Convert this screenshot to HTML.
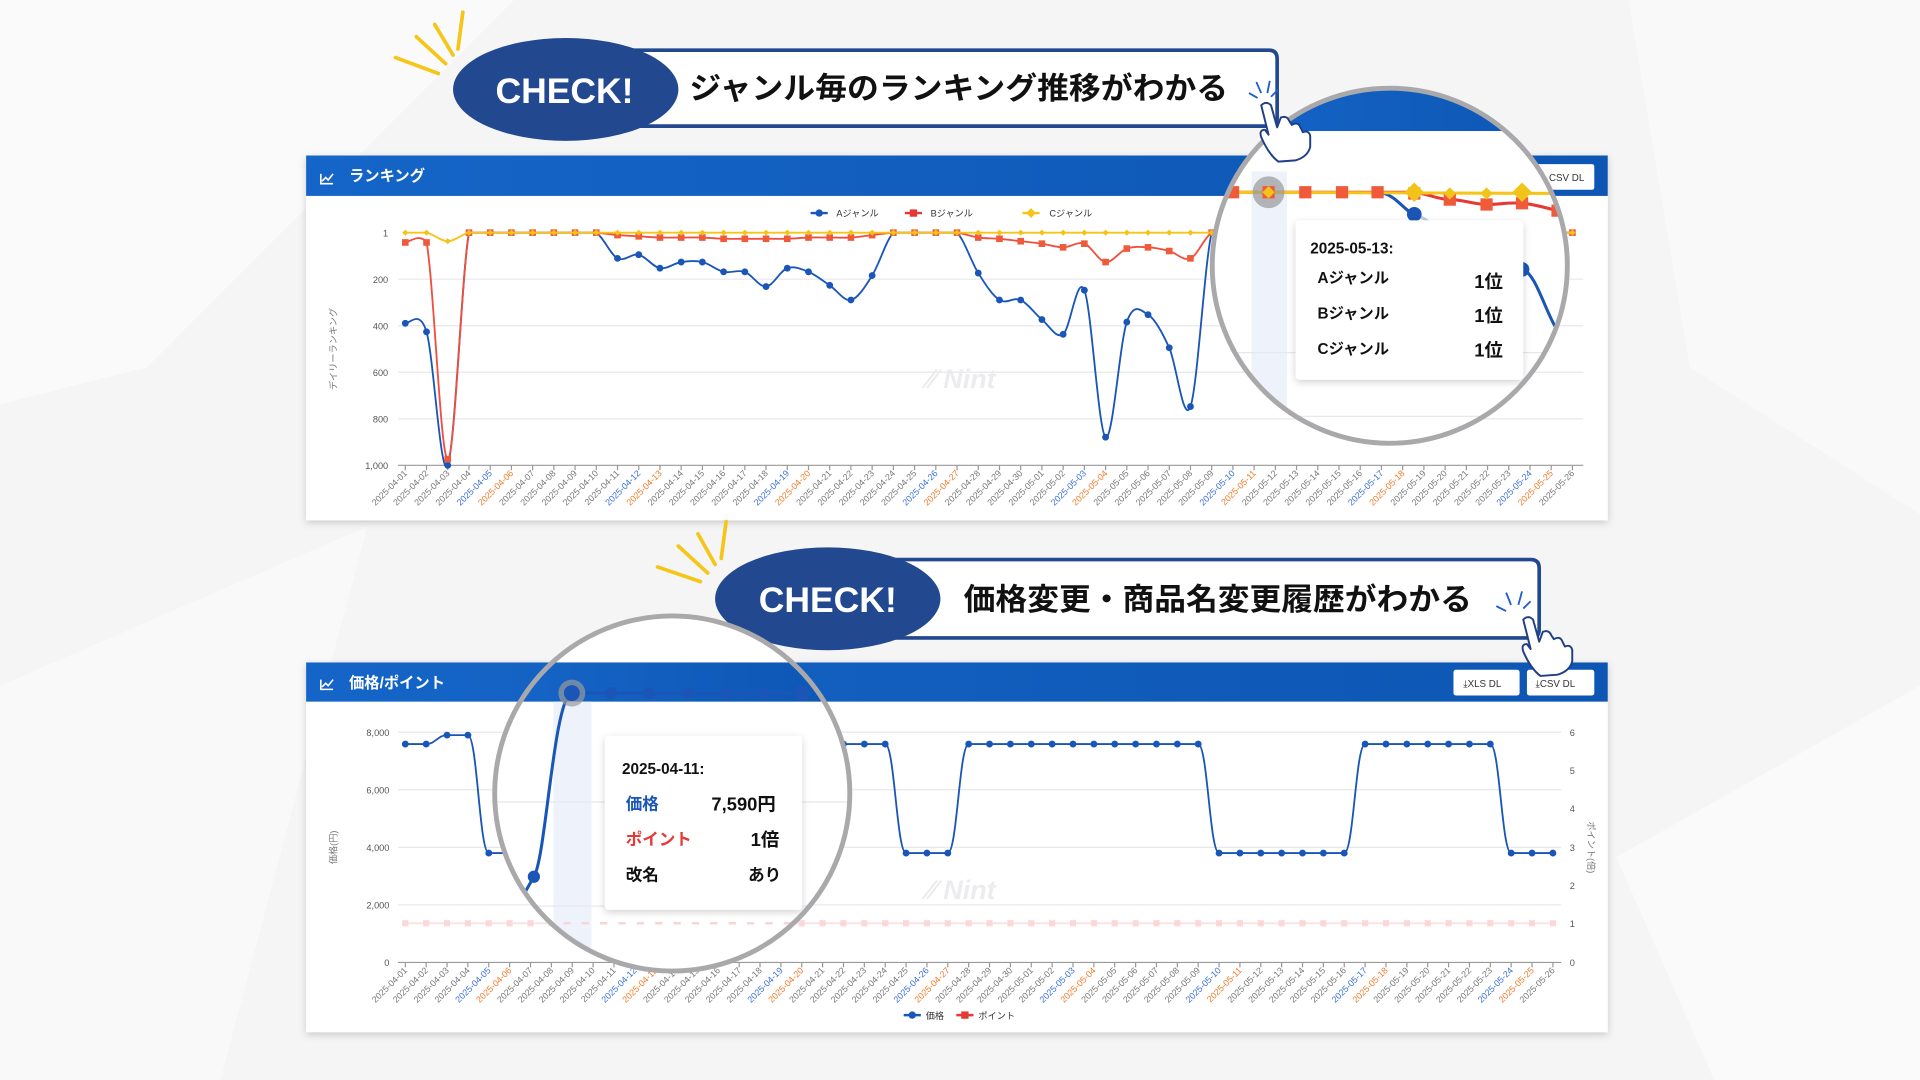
<!DOCTYPE html>
<html><head><meta charset="utf-8">
<style>
html,body{margin:0;padding:0;background:#f5f5f6;overflow:hidden}
svg{display:block;font-family:"Liberation Sans","Noto Sans CJK JP",sans-serif}
.dt{font-size:7.3px;fill:#777}
.dt.b{fill:#3a6fd6}.dt.o{fill:#f07a2a}
.ax{font-size:7.5px;fill:#555}
</style></head><body>
<svg id="s" xmlns="http://www.w3.org/2000/svg" width="1920" height="1080" viewBox="0 0 1568 882">
<defs>
<linearGradient id="hg" x1="0" x2="1" y1="0" y2="0"><stop offset="0" stop-color="#1565c8"/><stop offset="1" stop-color="#0d56b3"/></linearGradient>
<clipPath id="c1"><circle cx="1135" cy="217" r="145"/></clipPath>
<clipPath id="c2"><circle cx="549" cy="648" r="145"/></clipPath>
<filter id="sh" x="-10%" y="-10%" width="120%" height="130%"><feDropShadow dx="0" dy="2" stdDeviation="3" flood-color="#000" flood-opacity="0.18"/></filter>
</defs>
<rect width="1568" height="882" fill="#f5f5f6"/>
<polygon points="0,0 420,0 120,300 0,330" fill="#fafafa"/>
<polygon points="0,560 300,430 180,882 0,882" fill="#f9f9fa"/>
<polygon points="1330,0 1568,0 1568,420 1380,300" fill="#f9f9fa"/>
<polygon points="1320,700 1568,560 1568,882 1400,882" fill="#fafafa"/>

<!-- banner 1 -->
<g>
<g stroke="#f5c518" stroke-width="3" stroke-linecap="round"><line x1="323" y1="47" x2="358" y2="60"/><line x1="340" y1="30" x2="364" y2="52"/><line x1="355" y1="20" x2="370" y2="45"/><line x1="378" y1="10" x2="374" y2="40"/></g>
<path d="M500,41 H1036 Q1043,41 1043,48 V96 Q1043,103 1036,103 H500 Z" fill="#fff" stroke="#22488f" stroke-width="3"/>
<ellipse cx="462" cy="73" rx="92" ry="42" fill="#22488f"/>
<text x="461" y="84" text-anchor="middle" font-size="29" font-weight="bold" fill="#fff">CHECK!</text>
<text x="563" y="81" font-size="25" font-weight="bold" fill="#111" textLength="440" lengthAdjust="spacingAndGlyphs">ジャンル毎のランキング推移がわかる</text>
</g>

<!-- panel 1 -->
<g filter="url(#sh)"><rect x="250" y="127" width="1063" height="298" fill="#fff"/></g>
<rect x="250" y="127" width="1063" height="33" fill="url(#hg)"/>
<path d="M262,142 v8 h10 M263,148 l3,-3 2,2 4,-5" stroke="#fff" stroke-width="1.3" fill="none"/>
<text x="285" y="148" font-size="12.5" font-weight="bold" fill="#fff">ランキング</text>
<rect x="1253" y="134" width="49" height="21" rx="2" fill="#fff"/>
<text x="1265" y="148" font-size="8" fill="#333">CSV DL</text>
<g font-size="7.5" fill="#333">
<line x1="662" y1="174" x2="676" y2="174" stroke="#1a56b8" stroke-width="2"/><circle cx="669" cy="174" r="3" fill="#1a56b8"/><text x="683" y="177">Aジャンル</text>
<line x1="739" y1="174" x2="753" y2="174" stroke="#e53935" stroke-width="2"/><rect x="743" y="171" width="6" height="6" fill="#e53935"/><text x="760" y="177">Bジャンル</text>
<line x1="835" y1="174" x2="849" y2="174" stroke="#f5c518" stroke-width="2"/><path d="M842,170 l4,4 -4,4 -4,-4z" fill="#f5c518"/><text x="857" y="177">Cジャンル</text>
</g>
<g stroke="#e8e8ec" stroke-width="1"><line x1="325" y1="228" x2="1293" y2="228"/><line x1="325" y1="266" x2="1293" y2="266"/><line x1="325" y1="304" x2="1293" y2="304"/><line x1="325" y1="342" x2="1293" y2="342"/></g>
<line x1="325" y1="380" x2="1293" y2="380" stroke="#999"/>
<g class="ax" text-anchor="end"><text x="317" y="193">1</text><text x="317" y="231">200</text><text x="317" y="269">400</text><text x="317" y="307">600</text><text x="317" y="345">800</text><text x="317" y="383">1,000</text></g>
<text transform="translate(275,285) rotate(-90)" text-anchor="middle" font-size="7.5" fill="#777">デイリーランキング</text>
<text x="785" y="317" text-anchor="middle" font-size="22" font-weight="bold" fill="#ececef" font-style="italic">⁄⁄ Nint</text>
<g id="g1"></g>
<g id="d1"><text class="dt">2025-04-01</text><text class="dt">2025-04-02</text><text class="dt">2025-04-03</text><text class="dt">2025-04-04</text><text class="dt b">2025-04-05</text><text class="dt o">2025-04-06</text><text class="dt">2025-04-07</text><text class="dt">2025-04-08</text><text class="dt">2025-04-09</text><text class="dt">2025-04-10</text><text class="dt">2025-04-11</text><text class="dt b">2025-04-12</text><text class="dt o">2025-04-13</text><text class="dt">2025-04-14</text><text class="dt">2025-04-15</text><text class="dt">2025-04-16</text><text class="dt">2025-04-17</text><text class="dt">2025-04-18</text><text class="dt b">2025-04-19</text><text class="dt o">2025-04-20</text><text class="dt">2025-04-21</text><text class="dt">2025-04-22</text><text class="dt">2025-04-23</text><text class="dt">2025-04-24</text><text class="dt">2025-04-25</text><text class="dt b">2025-04-26</text><text class="dt o">2025-04-27</text><text class="dt">2025-04-28</text><text class="dt">2025-04-29</text><text class="dt">2025-04-30</text><text class="dt">2025-05-01</text><text class="dt">2025-05-02</text><text class="dt b">2025-05-03</text><text class="dt o">2025-05-04</text><text class="dt">2025-05-05</text><text class="dt">2025-05-06</text><text class="dt">2025-05-07</text><text class="dt">2025-05-08</text><text class="dt">2025-05-09</text><text class="dt b">2025-05-10</text><text class="dt o">2025-05-11</text><text class="dt">2025-05-12</text><text class="dt">2025-05-13</text><text class="dt">2025-05-14</text><text class="dt">2025-05-15</text><text class="dt">2025-05-16</text><text class="dt b">2025-05-17</text><text class="dt o">2025-05-18</text><text class="dt">2025-05-19</text><text class="dt">2025-05-20</text><text class="dt">2025-05-21</text><text class="dt">2025-05-22</text><text class="dt">2025-05-23</text><text class="dt b">2025-05-24</text><text class="dt o">2025-05-25</text><text class="dt">2025-05-26</text></g>

<!-- magnifier 1 -->
<g clip-path="url(#c1)">
<rect x="985" y="70" width="300" height="300" fill="#fff"/>
<rect x="985" y="70" width="300" height="37" fill="url(#hg)"/>
<rect x="1022" y="140" width="29" height="230" fill="#eef2fa"/>
<g stroke="#e8e8ec"><line x1="985" y1="288" x2="1290" y2="288"/><line x1="985" y1="340" x2="1290" y2="340"/></g>
<path d="M1125,157 C1140,158 1146,172 1155,175" stroke="#1a56b8" stroke-width="2.5" fill="none"/>
<path d="M1155,175 C1170,180 1176,190 1184,202 C1196,222 1202,252 1214,247 C1226,243 1232,220 1243,220" stroke="#b9cbe9" stroke-width="2.5" fill="none"/>
<path d="M1243,220 C1254,222 1262,255 1272,270" stroke="#1a56b8" stroke-width="2.5" fill="none"/>
<circle cx="1155" cy="175" r="6" fill="#1a56b8"/><circle cx="1184" cy="202" r="5" fill="#b9cbe9"/><circle cx="1214" cy="247" r="5" fill="#b9cbe9"/><circle cx="1243" cy="220" r="6" fill="#1a56b8"/>
<path d="M985,157 H1155 C1165,158 1175,163 1184,163 C1195,163 1204,167 1214,167 C1225,167 1232,165 1243,166 C1255,167 1262,170 1285,175" stroke="#e53935" stroke-width="2.5" fill="none"/>
<line x1="985" y1="157" x2="1290" y2="158" stroke="#f5c518" stroke-width="2.5"/>
<circle cx="1036" cy="157" r="13" fill="#999" opacity="0.7"/>
<g fill="#ef5b3a"><rect x="1002" y="152" width="10" height="10"/><rect x="1031" y="152" width="10" height="10"/><rect x="1061" y="152" width="10" height="10"/><rect x="1091" y="152" width="10" height="10"/><rect x="1120" y="152" width="10" height="10"/><rect x="1150" y="153" width="10" height="10"/><rect x="1179" y="158" width="10" height="10"/><rect x="1209" y="162" width="10" height="10"/><rect x="1238" y="161" width="10" height="10"/><rect x="1267" y="167" width="10" height="10"/></g>
<g fill="#f2c318"><path d="M1036,152 l5,5 -5,5 -5,-5z"/><path d="M1155,149 l8,8 -8,8 -8,-8z"/><path d="M1184,153 l5,5 -5,5 -5,-5z"/><path d="M1214,153 l5,5 -5,5 -5,-5z"/><path d="M1243,149 l8,8 -8,8 -8,-8z"/></g>
<g filter="url(#sh)"><rect x="1058" y="180" width="186" height="130" rx="3" fill="#fff"/></g>
<text x="1070" y="207" font-size="12.5" font-weight="bold" fill="#111">2025-05-13:</text>
<g font-size="12.5" font-weight="bold" fill="#111"><text x="1076" y="231">Aジャンル</text><text x="1076" y="260">Bジャンル</text><text x="1076" y="289">Cジャンル</text>
<text x="1204" y="235" font-size="15">1位</text><text x="1204" y="263" font-size="15">1位</text><text x="1204" y="291" font-size="15">1位</text></g>
</g>
<circle cx="1135" cy="217" r="145" fill="none" stroke="#a9a9ab" stroke-width="4"/>
<!-- hand 1 -->
<g stroke="#1f3f86" stroke-width="1.6" fill="#fff" stroke-linejoin="round">
<path d="M1030,86 Q1034,82 1038,86 L1043,104 L1046,96 Q1051,94 1053,99 L1055,102 Q1060,99 1062,104 L1064,108 Q1069,106 1070,111 L1070,120 Q1068,128 1058,131 L1044,132 Q1036,126 1030,112 Q1028,106 1033,106 L1036,110 Z"/>
</g>
<g stroke="#1f5fc8" stroke-width="1.5"><line x1="1020" y1="76" x2="1027" y2="80"/><line x1="1026" y1="67" x2="1030" y2="76"/><line x1="1037" y1="66" x2="1035" y2="76"/><line x1="1044" y1="73" x2="1038" y2="79"/></g>

<!-- banner 2 -->
<g>
<g stroke="#f5c518" stroke-width="3" stroke-linecap="round"><line x1="537" y1="463" x2="572" y2="475"/><line x1="554" y1="446" x2="578" y2="468"/><line x1="570" y1="436" x2="584" y2="461"/><line x1="593" y1="426" x2="589" y2="456"/></g>
<path d="M715,457 H1250 Q1257,457 1257,464 V514 Q1257,521 1250,521 H715 Z" fill="#fff" stroke="#22488f" stroke-width="3"/>
<ellipse cx="676" cy="489" rx="92" ry="42" fill="#22488f"/>
<text x="676" y="500" text-anchor="middle" font-size="29" font-weight="bold" fill="#fff">CHECK!</text>
<text x="787" y="498" font-size="25" font-weight="bold" fill="#111" textLength="415" lengthAdjust="spacingAndGlyphs">価格変更・商品名変更履歴がわかる</text>
</g>

<!-- panel 2 -->
<g filter="url(#sh)"><rect x="250" y="541" width="1063" height="302" fill="#fff"/></g>
<rect x="250" y="541" width="1063" height="32" fill="url(#hg)"/>
<path d="M262,555 v8 h10 M263,561 l3,-3 2,2 4,-5" stroke="#fff" stroke-width="1.3" fill="none"/>
<text x="285" y="562" font-size="12.5" font-weight="bold" fill="#fff">価格/ポイント</text>
<rect x="1187" y="547" width="54" height="21" rx="2" fill="#fff"/><text x="1195" y="561" font-size="8" fill="#333">⤓XLS DL</text>
<rect x="1247" y="547" width="55" height="21" rx="2" fill="#fff"/><text x="1254" y="561" font-size="8" fill="#333">⤓CSV DL</text>
<g stroke="#e8e8ec"><line x1="325" y1="598" x2="1275" y2="598"/><line x1="325" y1="645" x2="1275" y2="645"/><line x1="325" y1="692" x2="1275" y2="692"/><line x1="325" y1="739" x2="1275" y2="739"/></g>
<line x1="325" y1="786" x2="1275" y2="786" stroke="#999"/>
<g class="ax" text-anchor="end"><text x="318" y="601">8,000</text><text x="318" y="648">6,000</text><text x="318" y="695">4,000</text><text x="318" y="742">2,000</text><text x="318" y="789">0</text></g>
<g class="ax"><text x="1282" y="601">6</text><text x="1282" y="632">5</text><text x="1282" y="663">4</text><text x="1282" y="695">3</text><text x="1282" y="726">2</text><text x="1282" y="757">1</text><text x="1282" y="789">0</text></g>
<text transform="translate(275,692) rotate(-90)" text-anchor="middle" font-size="7.5" fill="#777">価格(円)</text>
<text transform="translate(1297,692) rotate(90)" text-anchor="middle" font-size="7.5" fill="#777">ポイント(倍)</text>
<text x="785" y="734" text-anchor="middle" font-size="22" font-weight="bold" fill="#ececef" font-style="italic">⁄⁄ Nint</text>
<g id="g2"></g>
<g id="d2"><text class="dt">2025-04-01</text><text class="dt">2025-04-02</text><text class="dt">2025-04-03</text><text class="dt">2025-04-04</text><text class="dt b">2025-04-05</text><text class="dt o">2025-04-06</text><text class="dt">2025-04-07</text><text class="dt">2025-04-08</text><text class="dt">2025-04-09</text><text class="dt">2025-04-10</text><text class="dt">2025-04-11</text><text class="dt b">2025-04-12</text><text class="dt o">2025-04-13</text><text class="dt">2025-04-14</text><text class="dt">2025-04-15</text><text class="dt">2025-04-16</text><text class="dt">2025-04-17</text><text class="dt">2025-04-18</text><text class="dt b">2025-04-19</text><text class="dt o">2025-04-20</text><text class="dt">2025-04-21</text><text class="dt">2025-04-22</text><text class="dt">2025-04-23</text><text class="dt">2025-04-24</text><text class="dt">2025-04-25</text><text class="dt b">2025-04-26</text><text class="dt o">2025-04-27</text><text class="dt">2025-04-28</text><text class="dt">2025-04-29</text><text class="dt">2025-04-30</text><text class="dt">2025-05-01</text><text class="dt">2025-05-02</text><text class="dt b">2025-05-03</text><text class="dt o">2025-05-04</text><text class="dt">2025-05-05</text><text class="dt">2025-05-06</text><text class="dt">2025-05-07</text><text class="dt">2025-05-08</text><text class="dt">2025-05-09</text><text class="dt b">2025-05-10</text><text class="dt o">2025-05-11</text><text class="dt">2025-05-12</text><text class="dt">2025-05-13</text><text class="dt">2025-05-14</text><text class="dt">2025-05-15</text><text class="dt">2025-05-16</text><text class="dt b">2025-05-17</text><text class="dt o">2025-05-18</text><text class="dt">2025-05-19</text><text class="dt">2025-05-20</text><text class="dt">2025-05-21</text><text class="dt">2025-05-22</text><text class="dt">2025-05-23</text><text class="dt b">2025-05-24</text><text class="dt o">2025-05-25</text><text class="dt">2025-05-26</text></g>
<g font-size="7.5" fill="#333">
<line x1="738" y1="829" x2="752" y2="829" stroke="#1a56b8" stroke-width="2"/><circle cx="745" cy="829" r="3" fill="#1a56b8"/><text x="756" y="832">価格</text>
<line x1="781" y1="829" x2="795" y2="829" stroke="#e53935" stroke-width="2"/><rect x="785" y="826" width="6" height="6" fill="#e53935"/><text x="799" y="832">ポイント</text>
</g>

<!-- magnifier 2 -->
<g clip-path="url(#c2)">
<rect x="400" y="500" width="300" height="300" fill="#fff"/>
<rect x="400" y="541" width="300" height="32" fill="url(#hg)"/>
<rect x="452" y="573" width="31" height="220" fill="#eef2fa"/>
<g stroke="#e8e8ec"><line x1="400" y1="655" x2="700" y2="655"/><line x1="400" y1="740" x2="700" y2="740"/></g>
<g stroke="#f8d6d6" stroke-width="2" stroke-dasharray="6,9"><line x1="400" y1="754" x2="700" y2="754"/></g>
<path d="M428,730 L436,716 C446,700 452,570 467,566 L660,566" stroke="#1a56b8" stroke-width="2.5" fill="none"/>
<circle cx="467" cy="566" r="11" fill="#9a9a9c" opacity="0.7"/>
<g fill="#1a56b8"><circle cx="436" cy="716" r="5"/><circle cx="467" cy="566" r="6.5"/><circle cx="499" cy="566" r="5"/><circle cx="530" cy="566" r="5"/><circle cx="562" cy="566" r="5"/><circle cx="593" cy="566" r="5"/><circle cx="624" cy="566" r="5"/><circle cx="655" cy="566" r="6.5"/></g>
<g filter="url(#sh)"><rect x="494" y="601" width="161" height="142" rx="3" fill="#fff"/></g>
<text x="508" y="632" font-size="12.5" font-weight="bold" fill="#111">2025-04-11:</text>
<g font-size="13.5" font-weight="bold"><text x="511" y="661" fill="#1a56b8">価格</text><text x="581" y="662" fill="#111" font-size="15">7,590円</text>
<text x="511" y="690" fill="#e53935">ポイント</text><text x="613" y="691" fill="#111" font-size="15">1倍</text>
<text x="511" y="719" fill="#111">改名</text><text x="611" y="719" fill="#111">あり</text></g>
</g>
<circle cx="549" cy="648" r="145" fill="none" stroke="#a9a9ab" stroke-width="4"/>
<!-- hand 2 -->
<g stroke="#1f3f86" stroke-width="1.6" fill="#fff" stroke-linejoin="round">
<path d="M1244,506 Q1248,502 1252,506 L1257,524 L1260,516 Q1265,514 1267,519 L1269,522 Q1274,519 1276,524 L1278,528 Q1283,526 1284,531 L1284,540 Q1282,548 1272,551 L1258,552 Q1250,546 1244,532 Q1242,526 1247,526 L1250,530 Z"/>
</g>
<g stroke="#1f5fc8" stroke-width="1.5"><line x1="1222" y1="495" x2="1230" y2="499"/><line x1="1230" y1="484" x2="1234" y2="494"/><line x1="1243" y1="483" x2="1240" y2="494"/><line x1="1250" y1="491" x2="1244" y2="497"/></g>
</svg>
<script>
const NS='http://www.w3.org/2000/svg';
function el(p,t,a){const e=document.createElementNS(NS,t);for(const k in a)e.setAttribute(k,a[k]);p.appendChild(e);return e;}
function cat(pts,ymin){let d='M'+pts[0][0]+','+pts[0][1];for(let i=0;i<pts.length-1;i++){const p0=pts[Math.max(i-1,0)],p1=pts[i],p2=pts[i+1],p3=pts[Math.min(i+2,pts.length-1)];const c1=[p1[0]+(p2[0]-p0[0])/6,Math.max(ymin,p1[1]+(p2[1]-p0[1])/6)],c2=[p2[0]-(p3[0]-p1[0])/6,Math.max(ymin,p2[1]-(p3[1]-p1[1])/6)];d+=' C'+c1+' '+c2+' '+p2;}return d;}
function hz(pts){let d='M'+pts[0][0]+','+pts[0][1];for(let i=0;i<pts.length-1;i++){const a=pts[i],b=pts[i+1],dx=(b[0]-a[0])*0.45;d+=' C'+(a[0]+dx)+','+a[1]+' '+(b[0]-dx)+','+b[1]+' '+b;}return d;}
const N=56;
const X1=i=>331+17.33*i, X2=i=>331+17.04*i;
const A=[264,271,380,190,190,190,190,190,190,190,211,208,219,214,214,222,222,234,219,222,233,245,225,190,190,190,190,223,245,245,261,273,237,357,263,257,284,332,190];
while(A.length<N)A.push(190);
const B=[198,198,375,190,190,190,190,190,190,190,192,193,194,194,194,195,195,195,195,194,194,194,192,190,190,190,190,194,195,197,199,202,199,214,203,202,205,211,190];
while(B.length<N)B.push(190);
const C=[];for(let i=0;i<N;i++)C.push(i==2?197:190);
const g1=document.getElementById('g1');
for(let i=0;i<N;i++)el(g1,'line',{x1:X1(i),x2:X1(i),y1:380,y2:384,stroke:'#999'});
el(g1,'path',{d:cat(A.map((y,i)=>[X1(i),y]),190),stroke:'#1a56b8','stroke-width':1.5,fill:'none'});
A.forEach((y,i)=>{if(y>192)el(g1,'circle',{cx:X1(i),cy:y,r:2.8,fill:'#1a56b8'})});
el(g1,'path',{d:cat(B.map((y,i)=>[X1(i),y]),190),stroke:'#ef4f3f','stroke-width':1.5,fill:'none'});
B.forEach((y,i)=>el(g1,'rect',{x:X1(i)-2.7,y:y-2.7,width:5.4,height:5.4,fill:'#ef5b3a'}));
el(g1,'path',{d:cat(C.map((y,i)=>[X1(i),y]),190),stroke:'#f5c518','stroke-width':1.5,fill:'none'});
C.forEach((y,i)=>el(g1,'path',{d:`M${X1(i)},${y-2.5} l2.5,2.5 -2.5,2.5 -2.5,-2.5z`,fill:'#f2c318'}));
[...document.querySelectorAll('#d1 text')].forEach((t,i)=>{const x=X1(i)+2,y=387;t.setAttribute('x',x);t.setAttribute('y',y);t.setAttribute('text-anchor','end');t.setAttribute('transform',`rotate(-45 ${x} ${y})`);});
const P=[7590,7590,7900,7900,3800,3800,3800,2980];
for(let i=8;i<=23;i++)P.push(7590);for(let i=24;i<=26;i++)P.push(3800);for(let i=27;i<=38;i++)P.push(7590);for(let i=39;i<=45;i++)P.push(3800);for(let i=46;i<=52;i++)P.push(7590);for(let i=53;i<=55;i++)P.push(3800);
const g2=document.getElementById('g2');
for(let i=0;i<N;i++)el(g2,'line',{x1:X2(i),x2:X2(i),y1:786,y2:790,stroke:'#999'});
el(g2,'line',{x1:X2(0),x2:X2(55),y1:754,y2:754,stroke:'#fbe0e0','stroke-width':1.5});
for(let i=0;i<N;i++)el(g2,'rect',{x:X2(i)-2.5,y:751.5,width:5,height:5,fill:'#fbd7d7'});
const pp=P.map((p,i)=>[X2(i),786-p*0.0235]);
el(g2,'path',{d:hz(pp),stroke:'#1a56b8','stroke-width':1.5,fill:'none'});
pp.forEach(p=>el(g2,'circle',{cx:p[0],cy:p[1],r:2.8,fill:'#1a56b8'}));
[...document.querySelectorAll('#d2 text')].forEach((t,i)=>{const x=X2(i)+2,y=793;t.setAttribute('x',x);t.setAttribute('y',y);t.setAttribute('text-anchor','end');t.setAttribute('transform',`rotate(-45 ${x} ${y})`);});
</script>
</body></html>
